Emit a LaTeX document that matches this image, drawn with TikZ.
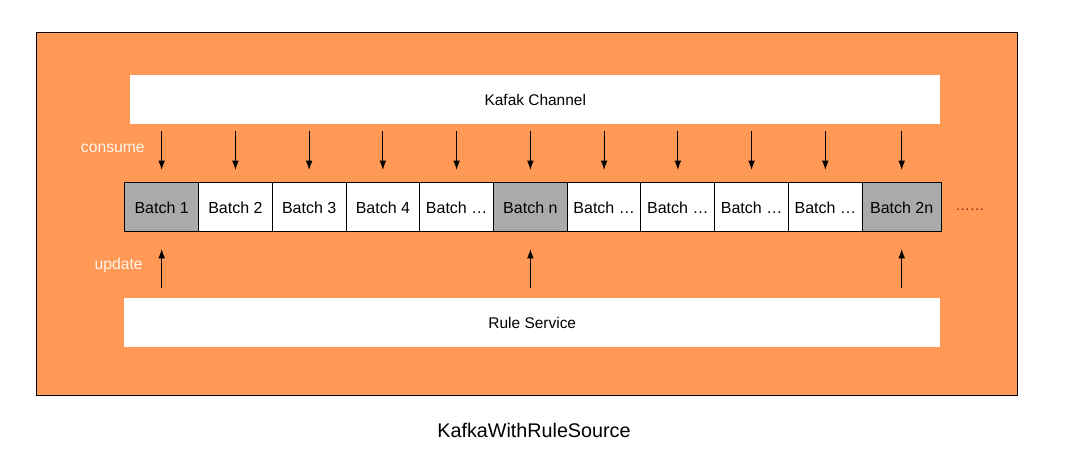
\documentclass[tikz,border=0pt]{standalone}
\usepackage{fontspec}
\setmainfont{Liberation Sans}
\usetikzlibrary{arrows.meta}
\definecolor{orng}{RGB}{255,153,85}
\definecolor{cellgray}{RGB}{170,170,170}
\definecolor{dotred}{RGB}{140,40,20}
\definecolor{lbl}{RGB}{255,245,235}
\begin{document}
\begin{tikzpicture}[x=0.75pt,y=-0.75pt,
  container/.style={draw=black,line width=0.75pt,fill=orng,inner sep=0pt,anchor=north west},
  bar/.style={fill=white,draw=none,inner sep=0pt,anchor=north west,font=\fontsize{11.6}{13}\selectfont},
  cell/.style={draw=black,line width=0.75pt,fill=white,inner sep=0pt,anchor=north west,minimum height=36.75pt,font=\fontsize{12}{14}\selectfont},
  graycell/.style={cell,fill=cellgray},
  flow/.style={-{Latex[length=7pt,width=5pt]},line width=0.75pt,black},
  sidelabel/.style={text=lbl,font=\fontsize{11.8}{13}\selectfont,inner sep=0pt}]
\useasboundingbox (0,0) rectangle (1067,473);
\node[container,minimum width=736pt,minimum height=272.25pt] (outer) at (36,32) {};
\node[bar,minimum width=607.5pt,minimum height=36.75pt] (kafka) at (130,75) {Kafak Channel};
\node[bar,minimum width=612pt,minimum height=36.75pt] (rule) at (124,298) {Rule Service};
\foreach \i/\t/\s in {1/Batch 1/graycell,2/Batch 2/cell,3/Batch 3/cell,4/Batch 4/cell,5/Batch \dots/cell,6/Batch n/graycell,7/Batch \dots/cell,8/Batch \dots/cell,9/Batch \dots/cell,10/Batch \dots/cell}{
  \node[\s,minimum width=55.3pt] (b\i) at ({124.3+(\i-1)*73.74},182.3) {\t};
}
\node[graycell,minimum width=59.25pt] (b11) at (861.7,182.3) {Batch 2n};
\node[text=dotred,font=\fontsize{11}{13}\selectfont,inner sep=0pt,anchor=base west] (dots) at (955,211) {\dots\dots};
\foreach \i in {1,...,11}{
  \coordinate (c\i) at (b\i.north |- 0,131);
  \draw[flow] (c\i) -- (b\i.north |- 0,170);
}
\foreach \i in {1,6,11}{
  \coordinate (u\i) at (b\i.south |- 0,288);
  \draw[flow] (u\i) -- (b\i.south |- 0,249);
}
\node[sidelabel,anchor=east] (consume) at (145,148) {consume};
\node[sidelabel,anchor=east] (update) at (143,265) {update};
\node[font=\fontsize{14.8}{17}\selectfont,inner sep=0pt] (title) at (534,430) {KafkaWithRuleSource};
\end{tikzpicture}
\end{document}
